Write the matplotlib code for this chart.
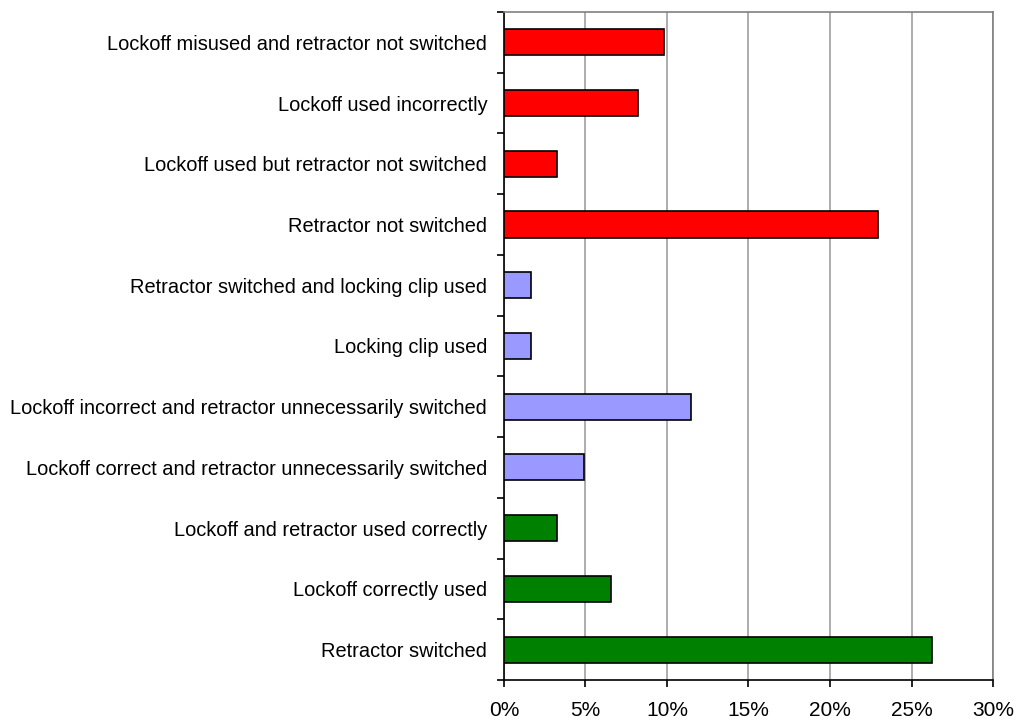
import matplotlib.pyplot as plt
from matplotlib.ticker import FixedLocator, PercentFormatter
import numpy as np

plt.rcParams['font.family'] = ['Liberation Sans', 'DejaVu Sans']

# categories from top to bottom
categorias = [
    "Lockoff misused and retractor not switched",
    "Lockoff used incorrectly",
    "Lockoff used but retractor not switched",
    "Retractor not switched",
    "Retractor switched and locking clip used",
    "Locking clip used",
    "Lockoff incorrect and retractor unnecessarily switched",
    "Lockoff correct and retractor unnecessarily switched",
    "Lockoff and retractor used correctly",
    "Lockoff correctly used",
    "Retractor switched",
]
valores = [9.84, 8.2, 3.28, 22.95, 1.64, 1.64, 11.48, 4.92, 3.28, 6.56, 26.23]
grupo = ["rojo"] * 4 + ["azul"] * 4 + ["verde"] * 3
colores_grupo = {"rojo": "#FF0000", "azul": "#9999FF", "verde": "#008000"}
ticks_x = [0, 5, 10, 15, 20, 25, 30]

fig = plt.figure(figsize=(10.18, 7.23), dpi=100)
ax = fig.add_axes([0.495, 0.0595, 0.4805, 0.924])

n = len(categorias)
y = np.arange(n)[::-1]
colores = [colores_grupo[g] for g in grupo]
ax.barh(y, valores, height=0.43, color=colores, edgecolor="black", linewidth=1.2, zorder=3)

ax.set_xlim(0, 30)
ax.set_ylim(-0.5, n - 0.5)
ax.set_xticks(ticks_x)
ax.xaxis.set_major_formatter(PercentFormatter(decimals=0))
ax.set_yticks(y)
ax.set_yticklabels(categorias)
ax.yaxis.set_minor_locator(FixedLocator(np.arange(n + 1) - 0.5))
ax.tick_params(axis="y", which="major", length=0, pad=12, labelsize=14.4)
ax.tick_params(axis="y", which="minor", length=5, width=1.2, direction="out")
ax.tick_params(axis="x", length=5, width=1.2, direction="out", labelsize=15, pad=10)

ax.grid(axis="x", color="#A0A0A0", linewidth=1.2, zorder=0)
for lado in ["top", "right"]:
    ax.spines[lado].set_color("#808080")
    ax.spines[lado].set_linewidth(1.2)
for lado in ["left", "bottom"]:
    ax.spines[lado].set_color("black")
    ax.spines[lado].set_linewidth(1.2)

fig.savefig("out.png", dpi=100)
